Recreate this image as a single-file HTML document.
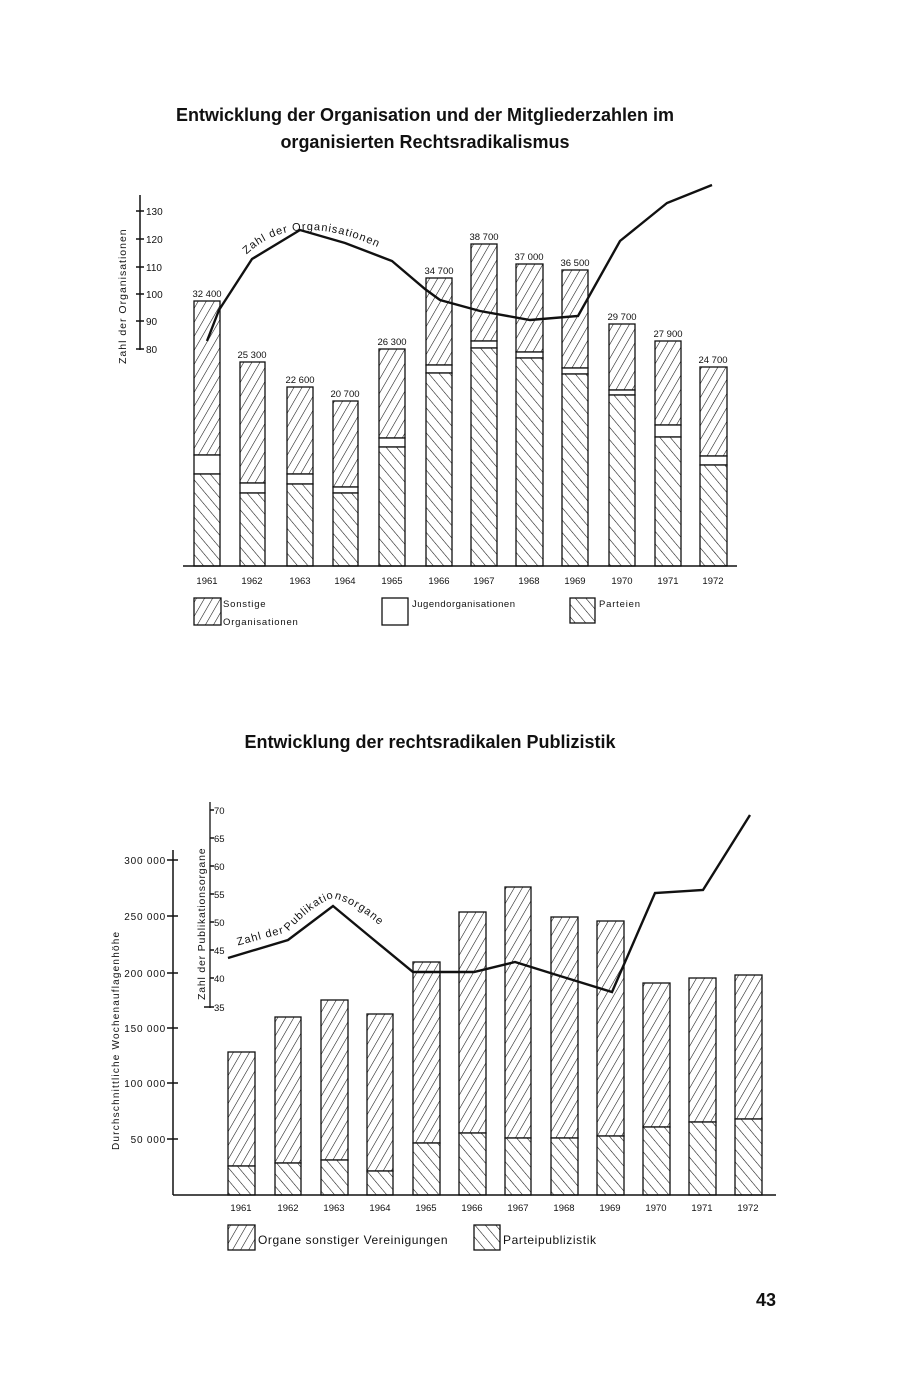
<!DOCTYPE html>
<html><head><meta charset="utf-8"><style>
html,body{margin:0;padding:0;background:#fff}
svg{display:block}
text{font-family:"Liberation Sans",sans-serif;fill:#111}
</style></head><body>
<svg width="898" height="1378" viewBox="0 0 898 1378" xmlns="http://www.w3.org/2000/svg">
<defs>
<pattern id="fw" width="7" height="7" patternUnits="userSpaceOnUse" patternTransform="rotate(30)"><rect width="7" height="7" fill="#fff"/><line x1="0" y1="0" x2="0" y2="7" stroke="#111" stroke-width="1.1"/></pattern>
<pattern id="bw" width="8" height="8" patternUnits="userSpaceOnUse" patternTransform="rotate(-40)"><rect width="8" height="8" fill="#fff"/><line x1="0" y1="0" x2="0" y2="8" stroke="#111" stroke-width="1.1"/></pattern>
</defs>
<rect width="898" height="1378" fill="#fff"/>
<text x="425" y="121" font-size="18" font-weight="bold" text-anchor="middle">Entwicklung der Organisation und der Mitgliederzahlen im</text>
<text x="425" y="148" font-size="18" font-weight="bold" text-anchor="middle">organisierten Rechtsradikalismus</text>

<g stroke="#111" stroke-width="1.5">
<line x1="140" y1="195" x2="140" y2="350"/>
<line x1="136" y1="211" x2="144" y2="211"/><line x1="136" y1="239" x2="144" y2="239"/><line x1="136" y1="267" x2="144" y2="267"/><line x1="136" y1="294" x2="144" y2="294"/><line x1="136" y1="321" x2="144" y2="321"/><line x1="136" y1="349" x2="144" y2="349"/>
</g>
<g font-size="10">
<text x="146" y="215">130</text><text x="146" y="243">120</text><text x="146" y="271">110</text><text x="146" y="298">100</text><text x="146" y="325">90</text><text x="146" y="353">80</text>
</g>
<text transform="translate(126,364) rotate(-90)" font-size="10.5" letter-spacing="1">Zahl der Organisationen</text>

<g stroke="#111" stroke-width="1.3">
<rect x="194" y="301" width="26" height="154" fill="url(#fw)"/><rect x="194" y="455" width="26" height="19" fill="#fff"/><rect x="194" y="474" width="26" height="92" fill="url(#bw)"/>
<rect x="240" y="362" width="25" height="121" fill="url(#fw)"/><rect x="240" y="483" width="25" height="10" fill="#fff"/><rect x="240" y="493" width="25" height="73" fill="url(#bw)"/>
<rect x="287" y="387" width="26" height="87" fill="url(#fw)"/><rect x="287" y="474" width="26" height="10" fill="#fff"/><rect x="287" y="484" width="26" height="82" fill="url(#bw)"/>
<rect x="333" y="401" width="25" height="86" fill="url(#fw)"/><rect x="333" y="487" width="25" height="6" fill="#fff"/><rect x="333" y="493" width="25" height="73" fill="url(#bw)"/>
<rect x="379" y="349" width="26" height="89" fill="url(#fw)"/><rect x="379" y="438" width="26" height="9" fill="#fff"/><rect x="379" y="447" width="26" height="119" fill="url(#bw)"/>
<rect x="426" y="278" width="26" height="87" fill="url(#fw)"/><rect x="426" y="365" width="26" height="8" fill="#fff"/><rect x="426" y="373" width="26" height="193" fill="url(#bw)"/>
<rect x="471" y="244" width="26" height="97" fill="url(#fw)"/><rect x="471" y="341" width="26" height="7" fill="#fff"/><rect x="471" y="348" width="26" height="218" fill="url(#bw)"/>
<rect x="516" y="264" width="27" height="88" fill="url(#fw)"/><rect x="516" y="352" width="27" height="6" fill="#fff"/><rect x="516" y="358" width="27" height="208" fill="url(#bw)"/>
<rect x="562" y="270" width="26" height="98" fill="url(#fw)"/><rect x="562" y="368" width="26" height="6" fill="#fff"/><rect x="562" y="374" width="26" height="192" fill="url(#bw)"/>
<rect x="609" y="324" width="26" height="66" fill="url(#fw)"/><rect x="609" y="390" width="26" height="5" fill="#fff"/><rect x="609" y="395" width="26" height="171" fill="url(#bw)"/>
<rect x="655" y="341" width="26" height="84" fill="url(#fw)"/><rect x="655" y="425" width="26" height="12" fill="#fff"/><rect x="655" y="437" width="26" height="129" fill="url(#bw)"/>
<rect x="700" y="367" width="27" height="89" fill="url(#fw)"/><rect x="700" y="456" width="27" height="9" fill="#fff"/><rect x="700" y="465" width="27" height="101" fill="url(#bw)"/>
<line x1="183" y1="566" x2="737" y2="566" stroke-width="1.6"/>
</g>
<g font-size="9.5" text-anchor="middle">
<text x="207" y="297">32 400</text><text x="252" y="358">25 300</text><text x="300" y="383">22 600</text><text x="345" y="397">20 700</text><text x="392" y="345">26 300</text><text x="439" y="274">34 700</text><text x="484" y="240">38 700</text><text x="529" y="260">37 000</text><text x="575" y="266">36 500</text><text x="622" y="320">29 700</text><text x="668" y="337">27 900</text><text x="713" y="363">24 700</text>
</g>
<polyline points="207,341 219,310 252,259 300,230 345,243 392,261 425,289 440,300 480,311 530,320 578,316 620,241 667,203 712,185" fill="none" stroke="#111" stroke-width="2.4"/>
<path id="tp1" d="M245,256 Q296,205 392,254" fill="none"/>
<text font-size="11" letter-spacing="1"><textPath href="#tp1" startOffset="2">Zahl der Organisationen</textPath></text>
<g font-size="9.5" text-anchor="middle">
<text x="207" y="584">1961</text><text x="252" y="584">1962</text><text x="300" y="584">1963</text><text x="345" y="584">1964</text><text x="392" y="584">1965</text><text x="439" y="584">1966</text><text x="484" y="584">1967</text><text x="529" y="584">1968</text><text x="575" y="584">1969</text><text x="622" y="584">1970</text><text x="668" y="584">1971</text><text x="713" y="584">1972</text>
</g>
<rect x="194" y="598" width="27" height="27" fill="url(#fw)" stroke="#111" stroke-width="1.3"/>
<text x="223" y="607" font-size="9.5" letter-spacing="0.8">Sonstige</text>
<text x="223" y="625" font-size="9.5" letter-spacing="0.8">Organisationen</text>
<rect x="382" y="598" width="26" height="27" fill="#fff" stroke="#111" stroke-width="1.3"/>
<text x="412" y="607" font-size="9.5" letter-spacing="0.5">Jugendorganisationen</text>
<rect x="570" y="598" width="25" height="25" fill="url(#bw)" stroke="#111" stroke-width="1.3"/>
<text x="599" y="607" font-size="9.5" letter-spacing="0.8">Parteien</text>

<text x="430" y="748" font-size="18" font-weight="bold" text-anchor="middle">Entwicklung der rechtsradikalen Publizistik</text>
<g stroke="#111" stroke-width="1.5">
<line x1="173" y1="850" x2="173" y2="1195"/>
<line x1="167" y1="860" x2="178" y2="860"/><line x1="167" y1="916" x2="178" y2="916"/><line x1="167" y1="973" x2="178" y2="973"/><line x1="167" y1="1028" x2="178" y2="1028"/><line x1="167" y1="1083" x2="178" y2="1083"/><line x1="167" y1="1139" x2="178" y2="1139"/>
<line x1="210" y1="802" x2="210" y2="1008" stroke-width="1.3"/>
<line x1="210" y1="810" x2="214" y2="810"/><line x1="210" y1="838" x2="214" y2="838"/><line x1="210" y1="866" x2="214" y2="866"/><line x1="210" y1="894" x2="214" y2="894"/><line x1="210" y1="922" x2="214" y2="922"/><line x1="210" y1="950" x2="214" y2="950"/><line x1="210" y1="978" x2="214" y2="978"/><line x1="204" y1="1007" x2="214" y2="1007"/>
</g>
<g font-size="10" text-anchor="end" letter-spacing="0.8">
<text x="166" y="864">300 000</text><text x="166" y="920">250 000</text><text x="166" y="977">200 000</text><text x="166" y="1032">150 000</text><text x="166" y="1087">100 000</text><text x="166" y="1143">50 000</text>
</g>
<g font-size="9.5">
<text x="214" y="814">70</text><text x="214" y="842">65</text><text x="214" y="870">60</text><text x="214" y="898">55</text><text x="214" y="926">50</text><text x="214" y="954">45</text><text x="214" y="982">40</text><text x="214" y="1011">35</text>
</g>
<text transform="translate(119,1150) rotate(-90)" font-size="10" letter-spacing="1.2">Durchschnittliche Wochenauflagenhöhe</text>
<text transform="translate(205,1000) rotate(-90)" font-size="10.5" letter-spacing="0.8">Zahl der Publikationsorgane</text>

<g stroke="#111" stroke-width="1.3">
<rect x="228" y="1052" width="27" height="114" fill="url(#fw)"/><rect x="228" y="1166" width="27" height="29" fill="url(#bw)"/>
<rect x="275" y="1017" width="26" height="146" fill="url(#fw)"/><rect x="275" y="1163" width="26" height="32" fill="url(#bw)"/>
<rect x="321" y="1000" width="27" height="160" fill="url(#fw)"/><rect x="321" y="1160" width="27" height="35" fill="url(#bw)"/>
<rect x="367" y="1014" width="26" height="157" fill="url(#fw)"/><rect x="367" y="1171" width="26" height="24" fill="url(#bw)"/>
<rect x="413" y="962" width="27" height="181" fill="url(#fw)"/><rect x="413" y="1143" width="27" height="52" fill="url(#bw)"/>
<rect x="459" y="912" width="27" height="221" fill="url(#fw)"/><rect x="459" y="1133" width="27" height="62" fill="url(#bw)"/>
<rect x="505" y="887" width="26" height="251" fill="url(#fw)"/><rect x="505" y="1138" width="26" height="57" fill="url(#bw)"/>
<rect x="551" y="917" width="27" height="221" fill="url(#fw)"/><rect x="551" y="1138" width="27" height="57" fill="url(#bw)"/>
<rect x="597" y="921" width="27" height="215" fill="url(#fw)"/><rect x="597" y="1136" width="27" height="59" fill="url(#bw)"/>
<rect x="643" y="983" width="27" height="144" fill="url(#fw)"/><rect x="643" y="1127" width="27" height="68" fill="url(#bw)"/>
<rect x="689" y="978" width="27" height="144" fill="url(#fw)"/><rect x="689" y="1122" width="27" height="73" fill="url(#bw)"/>
<rect x="735" y="975" width="27" height="144" fill="url(#fw)"/><rect x="735" y="1119" width="27" height="76" fill="url(#bw)"/>
<line x1="173" y1="1195" x2="776" y2="1195" stroke-width="1.6"/>
</g>
<polyline points="228,958 288,940 333,906 368,935 413,972 474,972 515,962 560,976 612,992 655,893 703,890 750,815" fill="none" stroke="#111" stroke-width="2.4"/>
<path id="tp2" d="M236,946 L288,932 Q312,905 333,898 Q360,905 390,935" fill="none"/>
<text font-size="11" letter-spacing="1"><textPath href="#tp2" startOffset="2">Zahl der Publikationsorgane</textPath></text>
<g font-size="9.5" text-anchor="middle">
<text x="241" y="1211">1961</text><text x="288" y="1211">1962</text><text x="334" y="1211">1963</text><text x="380" y="1211">1964</text><text x="426" y="1211">1965</text><text x="472" y="1211">1966</text><text x="518" y="1211">1967</text><text x="564" y="1211">1968</text><text x="610" y="1211">1969</text><text x="656" y="1211">1970</text><text x="702" y="1211">1971</text><text x="748" y="1211">1972</text>
</g>
<rect x="228" y="1225" width="27" height="25" fill="url(#fw)" stroke="#111" stroke-width="1.3"/>
<text x="258" y="1244" font-size="12" letter-spacing="0.6">Organe sonstiger Vereinigungen</text>
<rect x="474" y="1225" width="26" height="25" fill="url(#bw)" stroke="#111" stroke-width="1.3"/>
<text x="503" y="1244" font-size="12" letter-spacing="0.6">Parteipublizistik</text>

<text x="776" y="1306" font-size="18" font-weight="bold" text-anchor="end">43</text>
</svg>
</body></html>
